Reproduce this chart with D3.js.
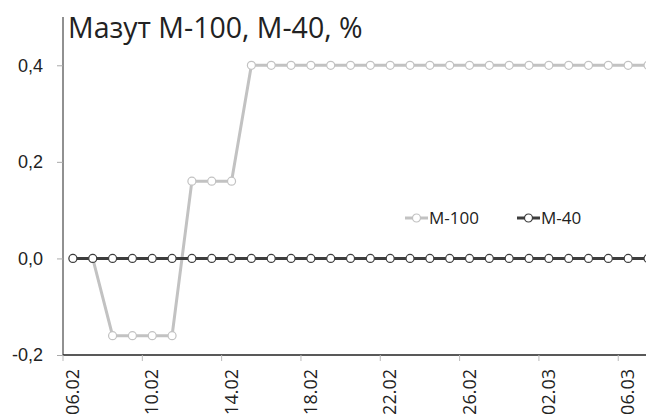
<!DOCTYPE html>
<html>
<head>
<meta charset="utf-8">
<script src="https://cdn.jsdelivr.net/npm/d3@7"></script>
<style>
  body { margin: 0; background: #fff; }
  svg { display: block; font-family: "Open Sans", "DejaVu Sans", sans-serif; }
</style>
</head>
<body>
<div id="chart"></div>
<script>
// Мазут М-100, М-40 — daily change, %
const dates = ["06.02","07.02","08.02","09.02","10.02","11.02","12.02","13.02","14.02","15.02",
  "16.02","17.02","18.02","19.02","20.02","21.02","22.02","23.02","24.02","25.02",
  "26.02","27.02","28.02","01.03","02.03","03.03","04.03","05.03","06.03","07.03"];
const m100 = [0, 0, -0.16, -0.16, -0.16, -0.16, 0.16, 0.16, 0.16, 0.4,
  0.4, 0.4, 0.4, 0.4, 0.4, 0.4, 0.4, 0.4, 0.4, 0.4,
  0.4, 0.4, 0.4, 0.4, 0.4, 0.4, 0.4, 0.4, 0.4, 0.4];
const m40 = [0, 0, 0, 0, 0, 0, 0, 0, 0, 0,
  0, 0, 0, 0, 0, 0, 0, 0, 0, 0,
  0, 0, 0, 0, 0, 0, 0, 0, 0, 0];
const yTicks = [-0.2, 0, 0.2, 0.4];
const seriesNames = ["М-100", "М-40"];

const width = 646, height = 416;
const margin = {left: 63, top: 17, bottom: 61};
const step = 19.83;

const svg = d3.select("#chart")
  .append("svg")
  .attr("width", width)
  .attr("height", height);

const x = d3.scaleBand()
  .domain(dates)
  .range([margin.left, margin.left + step * dates.length]);

const y = d3.scaleLinear()
  .domain([-0.2, 0.5])
  .range([height - margin.bottom, margin.top]);

const fmt = d => d3.format(".1f")(d).replace(".", ",").replace("−", "-");

// y axis
const yAxis = svg.append("g")
  .attr("transform", `translate(${margin.left},0)`)
  .call(d3.axisLeft(y).tickValues(yTicks).tickFormat(fmt).tickSize(6).tickPadding(14));
yAxis.select(".domain").attr("stroke", "#222").attr("d", `M0,${y(-0.2)}V${margin.top}`);
yAxis.selectAll(".tick line").attr("stroke", "#aaa");
yAxis.selectAll("text").attr("font-size", "18px").attr("fill", "#222");

// x axis: ticks on category boundaries every 4 days
const tickDates = dates.filter((d, i) => i % 4 === 0);
const xAxis = svg.append("g")
  .attr("transform", `translate(0,${y(-0.2)})`);
xAxis.append("line")
  .attr("x1", margin.left).attr("x2", width)
  .attr("stroke", "#222").attr("stroke-width", 1.3);
xAxis.selectAll(".tk")
  .data(tickDates)
  .enter()
  .append("line")
    .attr("x1", d => x(d)).attr("x2", d => x(d))
    .attr("y1", 0).attr("y2", 6)
    .attr("stroke", "#bbb");
xAxis.selectAll(".lbl")
  .data(tickDates)
  .enter()
  .append("text")
    .attr("transform", d => `translate(${x(d) + x.bandwidth() / 2 + 6},14) rotate(-90)`)
    .attr("text-anchor", "end")
    .attr("font-size", "18px")
    .attr("fill", "#222")
    .text(d => d);

// title
svg.append("text")
  .attr("x", 68).attr("y", 38)
  .attr("font-size", "28.5px")
  .attr("fill", "#222")
  .text("Мазут М-100, М-40, %");

const line = d3.line()
  .x((d, i) => x(dates[i]) + x.bandwidth() / 2)
  .y(d => y(d));

const series = [
  {name: seriesNames[0], values: m100, color: "#c2c2c2"},
  {name: seriesNames[1], values: m40, color: "#3d3d3d"}
];

series.forEach(s => {
  const g = svg.append("g");
  g.append("path")
    .attr("d", line(s.values))
    .attr("fill", "none")
    .attr("stroke", s.color)
    .attr("stroke-width", 3);
  g.selectAll("circle")
    .data(s.values)
    .enter()
    .append("circle")
      .attr("cx", (d, i) => x(dates[i]) + x.bandwidth() / 2)
      .attr("cy", d => y(d))
      .attr("r", 4)
      .attr("fill", "#fff")
      .attr("stroke", s.color)
      .attr("stroke-width", 1.2);
});

// legend
const legendX = [405, 517];
series.forEach((s, i) => {
  const lg = svg.append("g").attr("transform", `translate(${legendX[i]},218)`);
  lg.append("line").attr("x1", 0).attr("x2", 23)
    .attr("stroke", s.color).attr("stroke-width", 3);
  lg.append("circle").attr("cx", 11.5).attr("r", 4)
    .attr("fill", "#fff").attr("stroke", s.color).attr("stroke-width", 1.2);
  lg.append("text").attr("x", 24).attr("y", 6)
    .attr("font-size", "17px").attr("fill", "#222")
    .text(s.name);
});
</script>
</body>
</html>
